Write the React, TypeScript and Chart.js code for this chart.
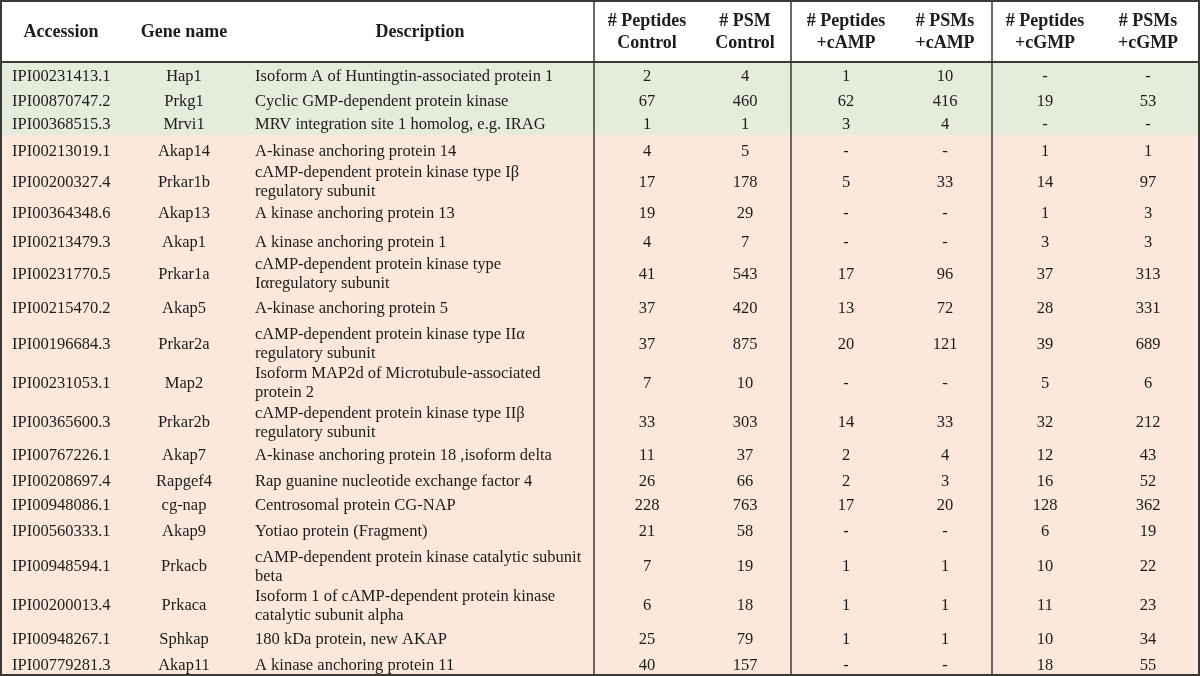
import React, { useEffect, useRef } from "react";
import { Chart, registerables } from "chart.js";

Chart.register(...registerables);

// ---------------- data ----------------
const accessions = [
  "IPI00231413.1", "IPI00870747.2", "IPI00368515.3", "IPI00213019.1", "IPI00200327.4",
  "IPI00364348.6", "IPI00213479.3", "IPI00231770.5", "IPI00215470.2", "IPI00196684.3",
  "IPI00231053.1", "IPI00365600.3", "IPI00767226.1", "IPI00208697.4", "IPI00948086.1",
  "IPI00560333.1", "IPI00948594.1", "IPI00200013.4", "IPI00948267.1", "IPI00779281.3",
];
const geneNames = [
  "Hap1", "Prkg1", "Mrvi1", "Akap14", "Prkar1b", "Akap13", "Akap1", "Prkar1a", "Akap5", "Prkar2a",
  "Map2", "Prkar2b", "Akap7", "Rapgef4", "cg-nap", "Akap9", "Prkacb", "Prkaca", "Sphkap", "Akap11",
];
const descriptions = [
  "Isoform A of Huntingtin-associated protein 1",
  "Cyclic GMP-dependent protein kinase",
  "MRV integration site 1 homolog, e.g. IRAG",
  "A-kinase anchoring protein 14",
  "cAMP-dependent protein kinase type Iβ\nregulatory subunit",
  "A kinase anchoring protein 13",
  "A kinase anchoring protein 1",
  "cAMP-dependent protein kinase type\nIαregulatory subunit",
  "A-kinase anchoring protein 5",
  "cAMP-dependent protein kinase type IIα\nregulatory subunit",
  "Isoform MAP2d of Microtubule-associated\nprotein 2",
  "cAMP-dependent protein kinase type IIβ\nregulatory subunit",
  "A-kinase anchoring protein 18 ,isoform delta",
  "Rap guanine nucleotide exchange factor 4",
  "Centrosomal protein CG-NAP",
  "Yotiao protein (Fragment)",
  "cAMP-dependent protein kinase catalytic subunit\nbeta",
  "Isoform 1 of cAMP-dependent protein kinase\ncatalytic subunit alpha",
  "180 kDa protein, new AKAP",
  "A kinase anchoring protein 11",
];
const peptidesControl = [2, 67, 1, 4, 17, 19, 4, 41, 37, 37, 7, 33, 11, 26, 228, 21, 7, 6, 25, 40];
const psmControl = [4, 460, 1, 5, 178, 29, 7, 543, 420, 875, 10, 303, 37, 66, 763, 58, 19, 18, 79, 157];
const peptidesCamp = [1, 62, 3, null, 5, null, null, 17, 13, 20, null, 14, 2, 2, 17, null, 1, 1, 1, null];
const psmCamp = [10, 416, 4, null, 33, null, null, 96, 72, 121, null, 33, 4, 3, 20, null, 1, 1, 1, null];
const peptidesCgmp = [null, 19, null, 1, 14, 1, 3, 37, 28, 39, 5, 32, 12, 16, 128, 6, 10, 11, 10, 18];
const psmCgmp = [null, 53, null, 1, 97, 3, 3, 313, 331, 689, 6, 212, 43, 52, 362, 19, 22, 23, 34, 55];
const cgmpGroupRows = 3; // first rows highlighted (green)

const headers = [
  "Accession", "Gene name", "Description",
  "# Peptides\nControl", "# PSM\nControl",
  "# Peptides\n+cAMP", "# PSMs\n+cAMP",
  "# Peptides\n+cGMP", "# PSMs\n+cGMP",
];

// ---------------- layout (table units = px) ----------------
const W = 1200;
const H = 676;
const HEADER_BOTTOM = 62;
const rowHeights = [26, 23, 24, 29, 33, 29, 29, 35, 34, 37, 41, 38, 28, 24, 23, 30, 40, 38, 29, 23];
const colX = [12, 184, 255, 647, 745, 846, 945, 1045, 1148];
const colAlign: CanvasTextAlign[] = ["left", "center", "left", "center", "center", "center", "center", "center", "center"];
const headerX = [61, 184, 420, 647, 745, 846, 945, 1045, 1148];
const dividers = [594, 791, 992];
const BODY_DY = 2;
const HEAD_DY = 1.5;

const GREEN = "#e5ecdb";
const SALMON = "#fce8da";
const LINE = "#3a3a3a";
const TEXT = "#1c1c1c";
const BODY_FONT = "16.5px 'Liberation Serif', 'Times New Roman', serif";
const HEAD_FONT = "bold 18px 'Liberation Serif', 'Times New Roman', serif";

const fmt = (v: number | null) => (v === null ? "-" : String(v));

function rowTops(): number[] {
  const tops: number[] = [];
  let t = HEADER_BOTTOM;
  for (const h of rowHeights) {
    tops.push(t);
    t += h;
  }
  return tops;
}

const tablePlugin = {
  id: "tablePlugin",
  afterDraw(chart: any) {
    const { ctx } = chart;
    const xs = chart.scales.x;
    const ys = chart.scales.y;
    const px = (v: number) => xs.getPixelForValue(v);
    const py = (v: number) => ys.getPixelForValue(v);
    const tops = rowTops();
    const n = accessions.length;
    const tableBottom = tops[n - 1] + rowHeights[n - 1];

    ctx.save();
    ctx.fillStyle = "#ffffff";
    ctx.fillRect(px(0), py(0), px(W) - px(0), py(HEADER_BOTTOM) - py(0));
    for (let i = 0; i < n; i++) {
      ctx.fillStyle = i < cgmpGroupRows ? GREEN : SALMON;
      ctx.fillRect(px(0), py(tops[i]), px(W) - px(0), py(tops[i] + rowHeights[i]) - py(tops[i]) + 0.5);
    }

    ctx.fillStyle = TEXT;
    ctx.textBaseline = "middle";
    ctx.font = HEAD_FONT;
    headers.forEach((h, c) => {
      ctx.textAlign = "center";
      const lines = h.split("\n");
      const mid = HEADER_BOTTOM / 2 + HEAD_DY;
      const lh = 22;
      lines.forEach((ln, k) => {
        const yy = mid + (k - (lines.length - 1) / 2) * lh;
        ctx.fillText(ln, px(headerX[c]), py(yy));
      });
    });

    ctx.font = BODY_FONT;
    for (let i = 0; i < n; i++) {
      const cy = tops[i] + rowHeights[i] / 2 + BODY_DY;
      const cells = [
        accessions[i], geneNames[i], descriptions[i],
        fmt(peptidesControl[i]), fmt(psmControl[i]),
        fmt(peptidesCamp[i]), fmt(psmCamp[i]),
        fmt(peptidesCgmp[i]), fmt(psmCgmp[i]),
      ];
      cells.forEach((txt, c) => {
        ctx.textAlign = colAlign[c];
        const lines = txt.split("\n");
        const lh = 19;
        lines.forEach((ln, k) => {
          const yy = cy + (k - (lines.length - 1) / 2) * lh;
          ctx.fillText(ln, px(colX[c]), py(yy));
        });
      });
    }

    ctx.strokeStyle = LINE;
    ctx.lineWidth = 2;
    ctx.beginPath();
    ctx.moveTo(px(0), py(1)); ctx.lineTo(px(W), py(1));
    ctx.moveTo(px(0), py(HEADER_BOTTOM)); ctx.lineTo(px(W), py(HEADER_BOTTOM));
    ctx.moveTo(px(0), py(tableBottom)); ctx.lineTo(px(W), py(tableBottom));
    ctx.moveTo(px(1), py(0)); ctx.lineTo(px(1), py(tableBottom));
    ctx.moveTo(px(W - 1), py(0)); ctx.lineTo(px(W - 1), py(tableBottom));
    ctx.stroke();
    ctx.lineWidth = 1.5;
    ctx.beginPath();
    dividers.forEach((d) => {
      ctx.moveTo(px(d), py(0));
      ctx.lineTo(px(d), py(tableBottom));
    });
    ctx.stroke();
    ctx.restore();
  },
};

export default function App() {
  const ref = useRef<HTMLCanvasElement | null>(null);
  useEffect(() => {
    document.body.style.margin = "0";
    if (!ref.current) return;
    const tops = rowTops();
    const points = accessions.map((_, i) => ({ x: colX[3], y: tops[i] + rowHeights[i] / 2 }));
    const chart = new Chart(ref.current, {
      type: "scatter",
      data: {
        datasets: [
          { data: points, pointRadius: 0, pointHoverRadius: 0, showLine: false },
        ],
      },
      options: {
        animation: false,
        responsive: false,
        devicePixelRatio: 1,
        layout: { padding: 0 },
        events: [],
        scales: {
          x: { type: "linear", min: 0, max: W, display: false },
          y: { type: "linear", min: 0, max: H, reverse: true, display: false },
        },
        plugins: { legend: { display: false }, tooltip: { enabled: false } },
      },
      plugins: [tablePlugin],
    });
    return () => chart.destroy();
  }, []);
  return (
    <div style={{ position: "absolute", left: 0, top: 0, width: W, height: H, background: "#fff" }}>
      <canvas ref={ref} width={W} height={H} style={{ display: "block" }} />
    </div>
  );
}
